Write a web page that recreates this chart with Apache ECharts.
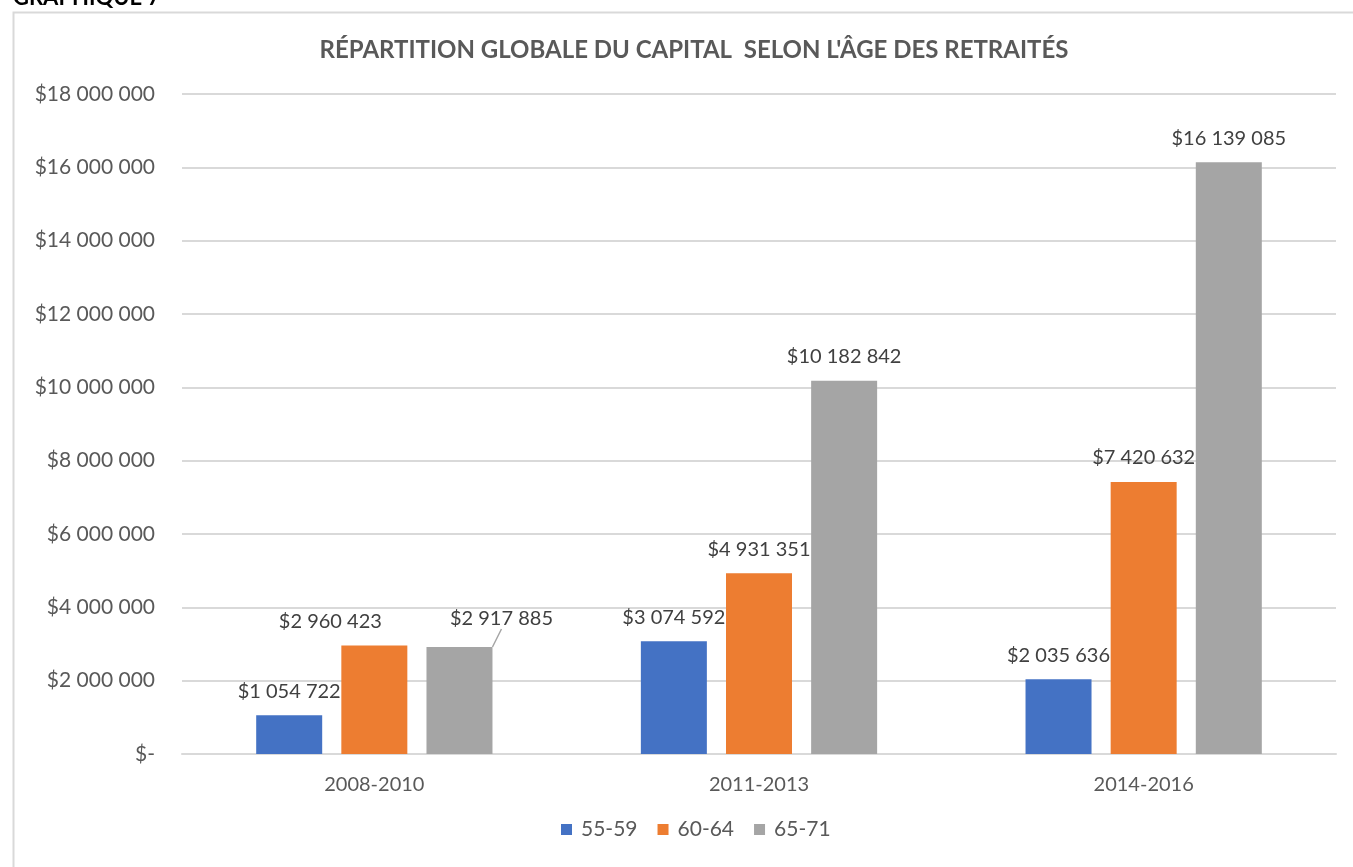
<!DOCTYPE html>
<html>
<head>
<meta charset="utf-8">
<script src="https://cdn.jsdelivr.net/npm/echarts@6/dist/echarts.min.js"></script>
<style>
  html, body { margin: 0; padding: 0; background: #fff; }
  #myChart { width: 1353px; height: 867px; }
</style>
</head>
<body>
<div id="myChart"></div>
<script>
// données du graphique
var periodes = ['2008-2010', '2011-2013', '2014-2016']
var groupesAge = ['55-59', '60-64', '65-71']
var capital5559 = [1054722, 3074592, 2035636]
var capital6064 = [2960423, 4931351, 7420632]
var capital6571 = [2917885, 10182842, 16139085]
var couleurs = ['#4472c4', '#ed7d31', '#a5a5a5']

// format "$1 054 722"
function formatDollar (v) {
  if (v === 0) return '$-'
  return '$' + String(Math.round(v)).replace(/\B(?=(\d{3})+(?!\d))/g, ' ')
}

var police = 'Lato, "Open Sans", sans-serif'

function buildSerie (idx, data) {
  return {
    name: groupesAge[idx],
    type: 'bar',
    // seule l'étiquette déplacée du premier groupe gris a une ligne de rappel
    data: data.map(function (v, i) {
      return { value: v, labelLine: { show: idx === 2 && i === 0 } }
    }),
    barWidth: 66,
    barGap: '29%',
    itemStyle: { color: couleurs[idx] },
    label: {
      show: true,
      position: 'top',
      distance: 14,
      fontFamily: police,
      fontSize: 20,
      color: '#404040',
      formatter: function (p) { return formatDollar(p.value) }
    },
    labelLine: {
      show: false,
      lineStyle: { color: '#a5a5a5', width: 1.5 }
    }
  }
}

var myChart = echarts.init(document.getElementById('myChart'))
var option = {
  animation: false,
  textStyle: { fontFamily: police },
  title: {
    text: "RÉPARTITION GLOBALE DU CAPITAL  SELON L'ÂGE DES RETRAITÉS",
    left: 689,
    textAlign: 'center',
    top: 33,
    textStyle: { fontFamily: police, fontSize: 24, fontWeight: 'bold', color: '#595959' }
  },
  graphic: [
    {
      type: 'rect',
      left: 11,
      top: 10,
      shape: { width: 1400, height: 900 },
      style: { fill: 'none', stroke: '#d9d9d9', lineWidth: 2 },
      silent: true
    },
    {
      type: 'text',
      left: 13,
      top: -13,
      style: { text: 'GRAPHIQUE 7', font: 'bold 22px ' + police, fill: '#000' }
    }
  ],
  legend: {
    data: groupesAge,
    bottom: 22,
    left: 556,
    itemWidth: 11,
    itemHeight: 11,
    itemGap: 20,
    icon: 'rect',
    textStyle: { fontFamily: police, fontSize: 21, color: '#595959', padding: [0, 0, 0, 4] }
  },
  grid: { left: 182, right: 17, top: 94, bottom: 113, containLabel: false },
  xAxis: {
    type: 'category',
    data: periodes,
    axisLine: { show: true, lineStyle: { color: '#d9d9d9', width: 2 } },
    axisTick: { show: false },
    axisLabel: { fontFamily: police, fontSize: 20, color: '#595959', margin: 21 }
  },
  yAxis: {
    type: 'value',
    min: 0,
    max: 18000000,
    interval: 2000000,
    axisLine: { show: false },
    axisTick: { show: false },
    splitLine: { lineStyle: { color: '#d9d9d9', width: 2 } },
    axisLabel: {
      fontFamily: police,
      fontSize: 21,
      color: '#595959',
      margin: 27,
      formatter: formatDollar
    }
  },
  labelLayout: function (params) {
    // étiquettes déplacées comme dans l'original
    if (params.seriesIndex === 1 && params.dataIndex === 0) return { dx: -44, dy: 0 }
    if (params.seriesIndex === 2 && params.dataIndex === 0) return { dx: 42, dy: -4 }
    return {}
  },
  series: [
    buildSerie(0, capital5559),
    buildSerie(1, capital6064),
    buildSerie(2, capital6571)
  ]
}
myChart.setOption(option)
</script>
</body>
</html>
